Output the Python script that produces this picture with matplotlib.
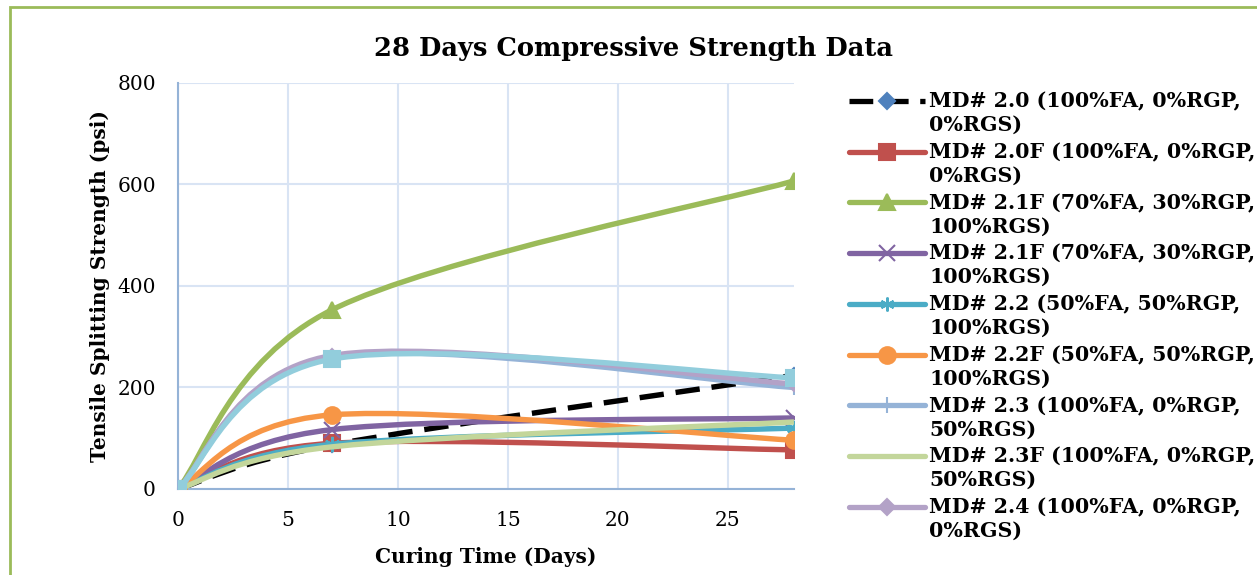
import numpy as np
import matplotlib
matplotlib.use("Agg")
import matplotlib.pyplot as plt
from matplotlib.path import Path
from matplotlib.patches import PathPatch, Rectangle
from matplotlib.lines import Line2D
from matplotlib.legend_handler import HandlerLine2D

# ==========================
# data
# ==========================
days = [0, 7, 28]

labels = [
    "MD# 2.0 (100%FA, 0%RGP,\n0%RGS)",
    "MD# 2.0F (100%FA, 0%RGP,\n0%RGS)",
    "MD# 2.1F (70%FA, 30%RGP,\n100%RGS)",
    "MD# 2.1F (70%FA, 30%RGP,\n100%RGS)",
    "MD# 2.2 (50%FA, 50%RGP,\n100%RGS)",
    "MD# 2.2F (50%FA, 50%RGP,\n100%RGS)",
    "MD# 2.3 (100%FA, 0%RGP,\n50%RGS)",
    "MD# 2.3F (100%FA, 0%RGP,\n50%RGS)",
    "MD# 2.4 (100%FA, 0%RGP,\n0%RGS)",
    None,
]

md20 = [0, 87, 224]
md20f = [0, 90, 77]
md21f_a = [0, 353, 607]
md21f_b = [0, 117, 140]
md22 = [0, 88, 120]
md22f = [0, 146, 96]
md23 = [0, 260, 200]
md23f = [0, 83, 132]
md24 = [0, 263, 207]
md24f = [0, 256, 219]

series = [md20, md20f, md21f_a, md21f_b, md22, md22f, md23, md23f, md24, md24f]

# style per series: line colour, marker, marker colour, dashed
styles = [
    ("black", "D", "#4F81BD", True),
    ("#C0504D", "s", "#C0504D", False),
    ("#9BBB59", "^", "#9BBB59", False),
    ("#8064A2", "x", "#8064A2", False),
    ("#4BACC6", (6, 2, 0), "#4BACC6", False),
    ("#F79646", "o", "#F79646", False),
    ("#95B3D7", "+", "#95B3D7", False),
    ("#C3D69B", None, None, False),
    ("#B3A2C7", "D", "#B3A2C7", False),
    ("#92CDDC", "s", "#92CDDC", False),
]
msizes = {"D": 7, "s": 11, "^": 12, "x": 11, "o": 12, "+": 11}


def smooth_path(x, y):
    # excel-like smoothing: cubic bezier segments through the points
    pts = np.column_stack([x, y]).astype(float)
    n = len(pts)
    verts = [pts[0]]
    codes = [Path.MOVETO]
    for i in range(n - 1):
        p0 = pts[max(i - 1, 0)]
        p1 = pts[i]
        p2 = pts[i + 1]
        p3 = pts[min(i + 2, n - 1)]
        c1 = p1 + (p2 - p0) / 6.0
        c2 = p2 - (p3 - p1) / 6.0
        verts += [c1, c2, p2]
        codes += [Path.CURVE4] * 3
    return Path(verts, codes)


class TopLineHandler(HandlerLine2D):
    # put the legend line next to the first text line, as excel does
    def create_artists(self, legend, orig_handle, xdescent, ydescent,
                       width, height, fontsize, trans):
        arts = super().create_artists(legend, orig_handle, xdescent,
                                      ydescent, width, height, fontsize,
                                      trans)
        for a in arts:
            a.set_ydata(np.asarray(a.get_ydata()) + 9.5)
        return arts


# ==========================
# plot
# ==========================
fig = plt.figure(figsize=(12.57, 5.75), dpi=100)
ax = fig.add_axes([0.1416, 0.1496, 0.4900, 0.7061])

serif = "DejaVu Serif"

handles = []
for k, (vals, (col, mk, mcol, dashed)) in enumerate(zip(series, styles)):
    ls = (0, (4.5, 2.2)) if dashed else "-"
    z = 2.5 if dashed else 3 + k * 0.1
    patch = PathPatch(smooth_path(days, vals), fill=False, edgecolor=col,
                      lw=3.9, linestyle=ls, zorder=z, capstyle="butt")
    ax.add_patch(patch)
    if mk is not None:
        ms = msizes.get(mk, 11) if not isinstance(mk, tuple) else 11
        ax.plot(days, vals, linestyle="none", marker=mk, color=mcol,
                markersize=ms, markeredgewidth=1.5, zorder=z + 0.05)
    if labels[k] is not None:
        ms = msizes.get(mk, 11) if not isinstance(mk, tuple) else 10
        if mk == "D":
            ms = 8
        handles.append(Line2D([], [], color=col, lw=3.8, linestyle=ls,
                              marker=mk, markersize=ms, markerfacecolor=mcol,
                              markeredgecolor=mcol, markeredgewidth=1.5,
                              solid_capstyle="round",
                              label=labels[k]))

ax.set_xlim(0, 28)
ax.set_ylim(0, 800)
ax.set_xticks([0, 5, 10, 15, 20, 25])
ax.set_yticks([0, 200, 400, 600, 800])
ax.grid(True, color="#D9E4F4", lw=1.5)
ax.set_axisbelow(True)
for s in ["top", "right"]:
    ax.spines[s].set_visible(False)
for s in ["left", "bottom"]:
    ax.spines[s].set_color("#95B3D7")
    ax.spines[s].set_linewidth(1.5)
ax.tick_params(axis="y", length=0, pad=16, labelsize=14.5)
ax.tick_params(axis="x", length=0, pad=16, labelsize=14.5)
for t in ax.get_xticklabels() + ax.get_yticklabels():
    t.set_fontfamily(serif)
ax.set_xlabel("Curing Time (Days)", fontsize=14.5, fontweight="bold",
              fontfamily=serif, labelpad=12)
ax.set_ylabel("Tensile Splitting Strength (psi)", fontsize=14.5,
              fontweight="bold", fontfamily=serif, labelpad=5)

fig.text(0.5036, 0.9165, "28 Days Compressive Strength Data",
         ha="center", va="center", fontsize=18.5, fontweight="bold",
         fontfamily=serif)

leg = fig.legend(handles=handles, loc="upper left",
                 bbox_to_anchor=(0.669, 0.855), frameon=False,
                 prop={"family": serif, "weight": "bold", "size": 14.8},
                 handlelength=3.7, handletextpad=0.2, labelspacing=0.35,
                 numpoints=1, borderaxespad=0,
                 handler_map={Line2D: TopLineHandler()})
for t in leg.get_texts():
    t.set_linespacing(1.22)

# green chart-area border (cropped at right and bottom)
fig.patches.append(Rectangle((10 / 1257, -0.05), 1.2, 1.05 - 7 / 575,
                             transform=fig.transFigure, fill=False,
                             edgecolor="#9BBB59", lw=2, zorder=0))

plt.savefig("out.png", dpi=100)
plt.close()
